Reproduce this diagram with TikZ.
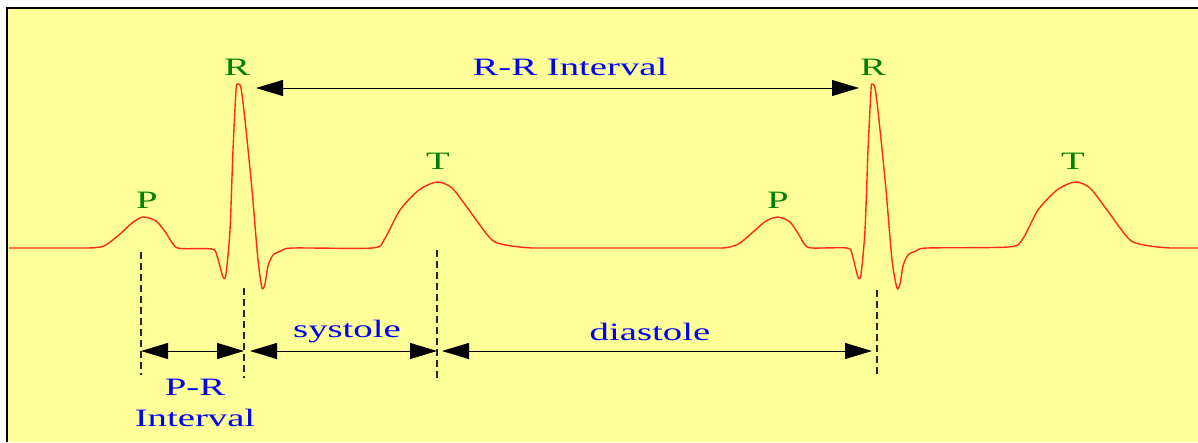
\documentclass[tikz,border=0pt]{standalone}
\usepackage{fontspec}
\setmainfont{Liberation Serif}
\newfontfamily\widefont[FakeStretch=1.55]{Liberation Serif}
\usetikzlibrary{arrows.meta}
\definecolor{paper}{HTML}{FFFF99}
\definecolor{wavegreen}{HTML}{008000}
\definecolor{tracered}{HTML}{FF2A1A}
\newcommand{\labelfont}{\widefont\fontsize{25}{30}\selectfont}

\begin{document}
\begin{tikzpicture}[x=1pt,y=-1pt]
  \tikzset{wave label/.style={text=wavegreen,font=\labelfont,anchor=base,inner sep=0},
    span label/.style={text=blue,font=\labelfont,anchor=base,inner sep=0},
    trace/.style={draw=tracered,line width=1.4pt,line join=round},
    guide/.style={draw=black!85,line width=1.5pt,dash pattern=on 7pt off 4pt},
    interval/.style={{Triangle[length=27pt,width=16pt]}-{Triangle[length=27pt,width=16pt]},line width=1pt}}
  \useasboundingbox (0,0) rectangle (1198,442);
  \fill[paper] (7,8) rectangle (1198,442);
  \draw[line width=2pt] (7,442) -- (7,8) -- (1198,8);
  % the ecg trace
  \draw[trace] (9,248) -- (88,248)
  -- plot[smooth,tension=0.45] coordinates {(88,248) (104,246) (120,234) (132,223) (143,217) (156,221) (166,233) (173,244) (180,248.5) (212,249)
    (217,256) (223,277) (226,274) (230,230) (233,150) (236,90) (238,84) (241,88) (245,120) (252,190) (258,260) (262,288) (265,284) (268,266) (273,255) (281,251) (293,248) (372,248)
    (384,240) (400,210) (419,190) (437,182) (452,188) (469,210) (492,240) (512,246) (532,248)}
  -- (722,248)
  -- plot[smooth,tension=0.45] coordinates {(722,248) (730,247) (740,243) (753,232) (766,221) (778,217) (790,222) (799,235) (805,245) (812,248) (847,248)
    (852,254) (858,277) (861,274) (865,230) (868,150) (871,90) (872,84) (875,88) (879,120) (886,190) (892,260) (897,288) (900,284) (903,266) (908,255) (916,251) (927,248) (1008,247)
    (1022,240) (1038,210) (1057,190) (1075,182) (1090,188) (1107,210) (1130,240) (1150,246) (1170,248)}
  -- (1198,248);
  % wave names
  \node[wave label](p1) at (147,208) {P};
  \node[wave label](r1) at (237,75) {R};
  \node[wave label](t1) at (438,169) {T};
  \node[wave label](p2) at (778,208) {P};
  \node[wave label](r2) at (873,75) {R};
  \node[wave label](t2) at (1073,169) {T};
  % dashed guides
  \coordinate(g1a) at (141,252); \coordinate(g1b) at (141,375);
  \coordinate(g2a) at (244,288); \coordinate(g2b) at (244,378);
  \coordinate(g3a) at (437,250); \coordinate(g3b) at (437,378);
  \coordinate(g4a) at (877,290); \coordinate(g4b) at (877,376);
  \draw[guide] (g1a) -- (g1b);
  \draw[guide] (g2a) -- (g2b);
  \draw[guide] (g3a) -- (g3b);
  \draw[guide] (g4a) -- (g4b);
  % intervals
  \coordinate(rr0) at (256,88); \coordinate(rr1) at (859,88);
  \coordinate(pr0) at (141,351); \coordinate(pr1) at (244,351);
  \coordinate(sy0) at (250,351); \coordinate(sy1) at (437,351);
  \coordinate(di0) at (442,351); \coordinate(di1) at (872,351);
  \draw[interval] (rr0) -- (rr1);
  \draw[interval] (pr0) -- (pr1);
  \draw[interval] (sy0) -- (sy1);
  \draw[interval] (di0) -- (di1);
  \node[span label](rr) at (570,75) {R-R Interval};
  \node[span label](sys) at (347,337) {systole};
  \node[span label](dia) at (650,340) {diastole};
  \node[span label](pr) at (195,395) {P-R};
  \node[span label](print) at (195,426) {Interval};
\end{tikzpicture}
\end{document}
